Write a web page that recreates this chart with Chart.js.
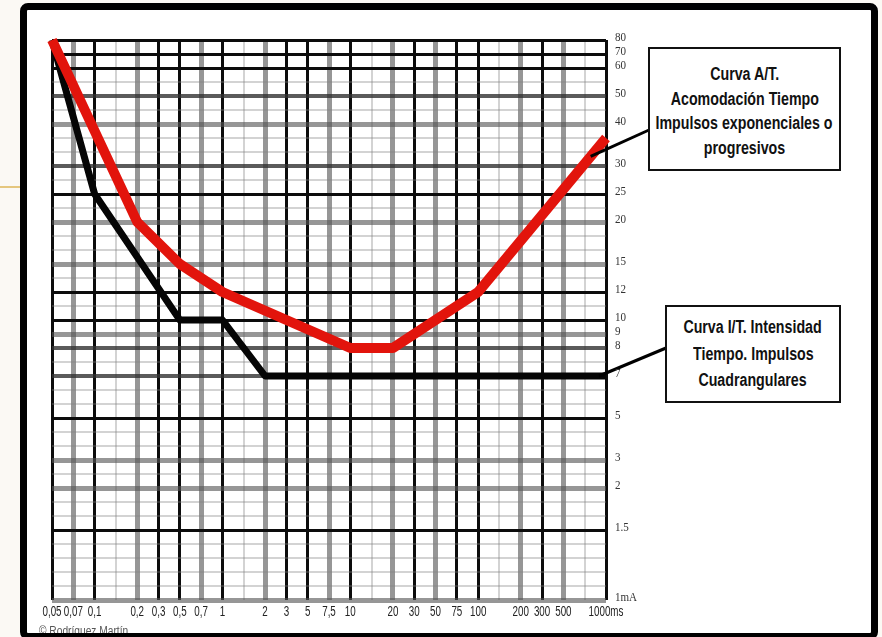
<!DOCTYPE html>
<html>
<head>
<meta charset="utf-8">
<script src="https://cdn.jsdelivr.net/npm/chart.js@4.4.1/dist/chart.umd.min.js"></script>
<style>
    html, body { margin: 0; padding: 0; }
    body {
        width: 882px; height: 637px; overflow: hidden; position: relative;
        background: #fbf9f4;
        font-family: 'Liberation Sans', Arial, sans-serif;
    }
    .deco { position: absolute; left: 0; top: 186px; width: 22px; height: 2px; background: #e5c77e; }
    .paper { position: absolute; left: 22px; top: 5px; width: 854px; height: 640px; background: #fff; }
    #chart-wrap { position: absolute; left: 0; top: 0; width: 882px; height: 637px; }
    .callout {
        position: absolute; box-sizing: border-box; background: #fff;
        border: 2px solid #111;
        display: flex; flex-direction: column; align-items: center; justify-content: center;
        font-weight: bold; font-size: 18px; color: #111;
    }
    .callout div { white-space: nowrap; transform: scaleX(0.79); line-height: 24.5px; }
    #box-at { left: 648px; top: 47px; width: 193px; height: 124px; padding-top: 4px; }
    #box-it { left: 665px; top: 305px; width: 176px; height: 98px; }
    #box-it div { line-height: 26.5px; }
    .credit {
        position: absolute; left: 39px; top: 624px; font-size: 12px; color: #555;
        transform: scaleX(0.85); transform-origin: left top; white-space: nowrap;
    }
    .frame {
        position: absolute; left: 20px; top: 3px; width: 858px; height: 637px;
        box-sizing: border-box; border: 7px solid #000; border-radius: 8px;
        pointer-events: none;
    }
</style>
</head>
<body>
<div class="deco"></div>
<div class="paper"></div>
<div id="chart-wrap"><canvas id="curveChart"></canvas></div>
<div class="callout" id="box-at">
    <div>Curva A/T.</div><div>Acomodación Tiempo</div><div>Impulsos exponenciales o</div><div>progresivos</div>
</div>
<div class="callout" id="box-it">
    <div>Curva I/T. Intensidad</div><div>Tiempo. Impulsos</div><div>Cuadrangulares</div>
</div>
<div class="credit">© Rodríguez Martín</div>
<div class="frame"></div>

<script>
// time axis (ms), blank slots are unlabeled paper lines
const xLabels = ['0,05', '0,07', '0,1', '', '0,2', '0,3', '0,5', '0,7', '1', '', '2', '3', '5', '7,5', '10', '',
    '20', '30', '50', '75', '100', '', '200', '300', '500', '', '1000ms'];

// intensity axis (mA), top to bottom
const yLabels = ['80', '70', '60', '', '50', '', '40', '35', '', '30', '', '25', '', '20', '', '', '15', '', '12', '',
    '10', '9', '8', '', '7', '', '', '5', '', '', '3', '', '2', '', '', '1.5', '', '', '', '', '1mA'];
const unprintedY = ['35'];

// Curva A/T (red)
const atTimes = ['0,05', '0,2', '0,5', '1', '10', '20', '100', '1000ms'];
const atValues = ['80', '20', '15', '12', '8', '8', '12', '35'];

// Curva I/T (black)
const itTimes = ['0,05', '0,1', '0,5', '1', '2', '1000ms'];
const itValues = ['80', '25', '10', '10', '7', '7'];

const darkX = ['0,05', '0,1', '0,3', '0,5', '1', '3', '5', '10', '30', '75', '100', '300', '1000ms'];
const darkY = ['80', '70', '60', '25', '12', '10', '5', '1.5'];
const midY = ['50', '30', '8', '7'];

function lineStyle(label, dark, mid) {
    if (label === '' || unprintedY.includes(label)) return { color: 'rgba(130,130,130,0.35)', width: 2 };
    if (dark.includes(label)) return { color: '#0c0c0c', width: 3 };
    if (mid.includes(label)) return { color: 'rgba(50,50,50,0.8)', width: 4 };
    return { color: 'rgba(85,85,85,0.62)', width: 5 };
}

// condensed print for the axis labels, like the original
function drawNarrow(ctx, text, x, y, sx) {
    ctx.save();
    ctx.translate(x, y);
    ctx.scale(sx, 1);
    ctx.fillText(text, 0, 0);
    ctx.restore();
}

const narrowLabels = {
    id: 'narrowLabels',
    afterDraw(chart) {
        const ctx = chart.ctx;
        const xs = chart.scales.x;
        const ys = chart.scales.y;
        ctx.save();
        ctx.fillStyle = '#222';
        ctx.textBaseline = 'middle';
        ctx.font = "14px 'Liberation Sans', Arial, sans-serif";
        ctx.textAlign = 'center';
        xLabels.forEach((lbl, i) => {
            if (lbl) drawNarrow(ctx, lbl, xs.getPixelForValue(i), xs.top + 12, 0.7);
        });
        ctx.fillStyle = '#333';
        ctx.font = "13px 'Liberation Serif', 'DejaVu Serif', serif";
        ctx.textAlign = 'left';
        yLabels.forEach((lbl, i) => {
            if (lbl && !unprintedY.includes(lbl)) drawNarrow(ctx, lbl, ys.left + 9, ys.getPixelForValue(i) - 2, 0.85);
        });
        ctx.restore();
    }
};

const calloutLines = {
    id: 'calloutLines',
    afterDatasetsDraw(chart) {
        const ctx = chart.ctx;
        const red = chart.getDatasetMeta(0).data;
        const black = chart.getDatasetMeta(1).data;
        const a = red[red.length - 1];
        const b = red[red.length - 2];
        const k = black[black.length - 1];
        ctx.save();
        ctx.strokeStyle = '#000';
        ctx.lineWidth = 3;
        ctx.beginPath();
        ctx.moveTo(a.x + (b.x - a.x) * 0.12, a.y + (b.y - a.y) * 0.12);
        ctx.lineTo(649, 130);
        ctx.stroke();
        ctx.beginPath();
        ctx.moveTo(k.x - 7, k.y);
        ctx.lineTo(666, 348);
        ctx.stroke();
        ctx.restore();
    }
};

const ctx = document.getElementById('curveChart').getContext('2d');
new Chart(ctx, {
    type: 'line',
    data: {
        labels: xLabels,
        datasets: [
            {
                label: 'Curva A/T',
                data: atTimes.map((t, i) => ({ x: t, y: atValues[i] })),
                borderColor: '#e2140c',
                borderWidth: 10,
                pointRadius: 0,
                tension: 0,
                borderJoinStyle: 'round'
            },
            {
                label: 'Curva I/T',
                data: itTimes.map((t, i) => ({ x: t, y: itValues[i] })),
                borderColor: '#050505',
                borderWidth: 7,
                pointRadius: 0,
                tension: 0,
                borderJoinStyle: 'round'
            }
        ]
    },
    options: {
        responsive: true,
        maintainAspectRatio: false,
        animation: false,
        layout: { padding: { left: 52, top: 40, right: 0, bottom: 0 } },
        plugins: {
            legend: { display: false },
            tooltip: { enabled: false }
        },
        scales: {
            x: {
                type: 'category',
                labels: xLabels,
                offset: false,
                border: { display: false },
                afterFit: s => { s.height = 37; },
                grid: {
                    drawTicks: false,
                    color: c => lineStyle(xLabels[c.index], darkX, []).color,
                    lineWidth: c => lineStyle(xLabels[c.index], darkX, []).width
                },
                ticks: { display: false, autoSkip: false }
            },
            y: {
                type: 'category',
                labels: yLabels,
                position: 'right',
                offset: false,
                border: { display: false },
                afterFit: s => { s.width = 276; },
                grid: {
                    drawTicks: false,
                    color: c => lineStyle(yLabels[c.index], darkY, midY).color,
                    lineWidth: c => lineStyle(yLabels[c.index], darkY, midY).width
                },
                ticks: { display: false, autoSkip: false }
            }
        }
    },
    plugins: [calloutLines, narrowLabels]
});
</script>
</body>
</html>
